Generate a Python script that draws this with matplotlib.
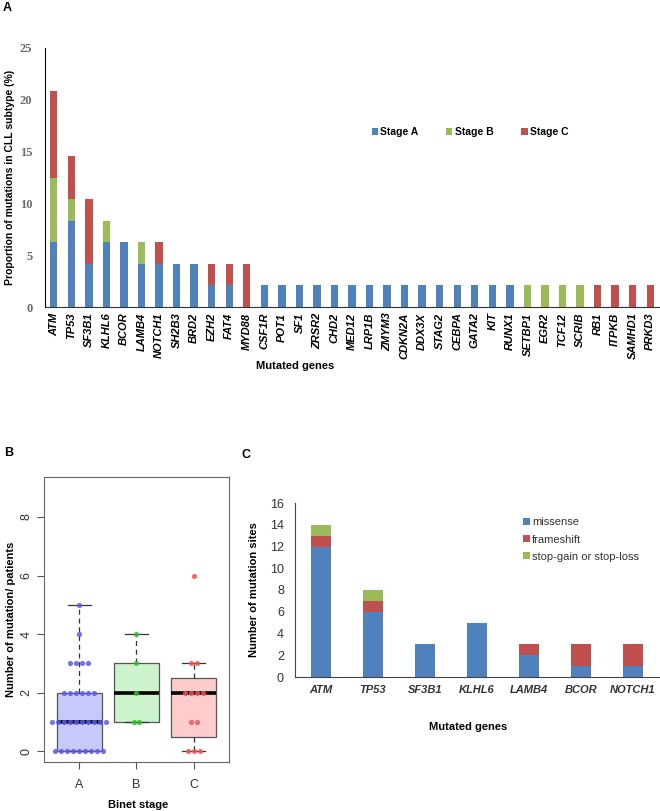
import numpy as np
import matplotlib
matplotlib.use("Agg")
import matplotlib.pyplot as plt

plt.rcParams['font.family'] = ['Liberation Sans', 'DejaVu Sans']

# ---- panel A: proportion of mutations per gene, by Binet stage (%)
genes_a = ['ATM', 'TP53', 'SF3B1', 'KLHL6', 'BCOR', 'LAMB4', 'NOTCH1', 'SH2B3',
           'BRD2', 'EZH2', 'FAT4', 'MYD88', 'CSF1R', 'POT1', 'SF1', 'ZRSR2',
           'CHD2', 'MED12', 'LRP1B', 'ZMYM3', 'CDKN2A', 'DDX3X', 'STAG2', 'CEBPA',
           'GATA2', 'KIT', 'RUNX1', 'SETBP1', 'EGR2', 'TCF12', 'SCRIB', 'RB1',
           'ITPKB', 'SAMHD1', 'PRKD3']
stage_a = [6.25, 8.33, 4.17, 6.25, 6.25, 4.17, 4.17, 4.17, 4.17, 2.08, 2.08, 0,
           2.08, 2.08, 2.08, 2.08, 2.08, 2.08, 2.08, 2.08, 2.08, 2.08, 2.08, 2.08,
           2.08, 2.08, 2.08, 0, 0, 0, 0, 0, 0, 0, 0]
stage_b = [6.25, 2.08, 0, 2.08, 0, 2.08, 0, 0, 0, 0, 0, 0,
           0, 0, 0, 0, 0, 0, 0, 0, 0, 0, 0, 0,
           0, 0, 0, 2.08, 2.08, 2.08, 2.08, 0, 0, 0, 0]
stage_c = [8.33, 4.17, 6.25, 0, 0, 0, 2.08, 0, 0, 2.08, 2.08, 4.17,
           0, 0, 0, 0, 0, 0, 0, 0, 0, 0, 0, 0,
           0, 0, 0, 0, 0, 0, 0, 2.08, 2.08, 2.08, 2.08]

# ---- panel B: number of mutations per patient by Binet stage
binet_groups = ['A', 'B', 'C']
muts_stage_a = [0]*9 + [1]*10 + [2]*6 + [3]*4 + [4] + [5]
muts_stage_b = [1, 1, 2, 3, 4]
muts_stage_c = [0, 0, 0, 1, 1, 2, 2, 2, 2, 3, 3, 6]

# ---- panel C: mutation sites by type
genes_c = ['ATM', 'TP53', 'SF3B1', 'KLHL6', 'LAMB4', 'BCOR', 'NOTCH1']
missense = [12, 6, 3, 5, 2, 1, 1]
frameshift = [1, 1, 0, 0, 1, 2, 2]
stop_gain_loss = [1, 1, 0, 0, 0, 0, 0]

BLUE = '#4F81BD'
RED = '#C0504D'
GREEN = '#9BBB59'

W, H = 660, 811


def px_axes(fig, left, top, right, bottom):
    return fig.add_axes([left / W, 1 - bottom / H, (right - left) / W, (bottom - top) / H])


def fivenum_stats(vals):
    # Tukey hinges, like R's boxplot
    v = np.sort(np.asarray(vals, dtype=float))
    n = len(v)
    med = np.median(v)
    half = (n + 1) // 2
    q1 = np.median(v[:half])
    q3 = np.median(v[n - half:])
    iqr = q3 - q1
    lo = v[v >= q1 - 1.5 * iqr].min()
    hi = v[v <= q3 + 1.5 * iqr].max()
    return dict(med=med, q1=q1, q3=q3, whislo=lo, whishi=hi, fliers=[])


fig = plt.figure(figsize=(W / 100, H / 100), dpi=100)

# ================= A =================
axA = px_axes(fig, 45, 48, 659, 307)
x = np.arange(len(genes_a))
sa = np.array(stage_a)
sb = np.array(stage_b)
sc = np.array(stage_c)
bw = 0.42
axA.bar(x, sa, bw, color=BLUE, label='Stage A')
axA.bar(x, sb, bw, bottom=sa, color=GREEN, label='Stage B')
axA.bar(x, sc, bw, bottom=sa + sb, color=RED, label='Stage C')
axA.set_xlim(-0.5, len(genes_a) - 0.5)
axA.set_ylim(0, 25)
axA.set_yticks([0, 5, 10, 15, 20, 25])
axA.set_yticklabels(['0', '5', '10', '15', '20', '25'], family='Liberation Serif',
                    fontweight='bold', color='#6b6b6b', fontsize=9)
axA.set_xticks(x)
axA.set_xticklabels(genes_a, rotation=90, fontstyle='italic', fontweight='bold',
                    fontsize=8, va='top')
axA.tick_params(length=0, pad=4)
axA.tick_params(axis='y', pad=9)
for s in ['top', 'right']:
    axA.spines[s].set_visible(False)
axA.spines['left'].set_color('black')
axA.spines['bottom'].set_color('#333333')
axA.set_ylabel('Proportion of mutations in CLL subtype (%)', fontweight='bold', fontsize=7.5)
axA.yaxis.set_label_coords(-0.049, 0.5)
axA.legend(ncol=3, loc='center', bbox_to_anchor=(0.692, 0.676), frameon=False,
           prop={'weight': 'bold', 'size': 7.5}, handlelength=0.6, handleheight=0.6,
           handletextpad=0.2, columnspacing=2.7)
fig.text(295 / W, 1 - 366 / H, 'Mutated genes', ha='center', va='center',
         fontweight='bold', fontsize=8)
fig.text(3 / W, 1 - 8 / H, 'A', ha='left', va='center', fontweight='bold', fontsize=9)

# ================= B =================
axB = px_axes(fig, 44, 477, 229, 762)
groups = [muts_stage_a, muts_stage_b, muts_stage_c]
fills = ['#c8c8fa', '#cdf3cd', '#ffcccc']
dots = ['#5a5af0', '#33bb33', '#f05555']
stats = [fivenum_stats(g) for g in groups]
bp = axB.bxp(stats, positions=[1, 2, 3], widths=0.8, patch_artist=True,
             showfliers=False, capwidths=0.4,
             boxprops=dict(edgecolor='#555555', linewidth=0.9),
             whiskerprops=dict(color='#333333', linestyle=(0, (4, 3)), linewidth=0.9),
             capprops=dict(color='#333333', linewidth=0.9),
             medianprops=dict(color='black', linewidth=2.6))
for patch, fc in zip(bp['boxes'], fills):
    patch.set_facecolor(fc)
step = 0.105
for i, g in enumerate(groups):
    vals, counts = np.unique(g, return_counts=True)
    for v, c in zip(vals, counts):
        xs = (i + 1) + (np.arange(c) - (c - 1) / 2) * step
        axB.scatter(xs, [v] * c, s=14, color=dots[i], alpha=0.85, linewidths=0, zorder=3)
axB.set_xlim(0.38, 3.62)
axB.set_ylim(-0.36, 9.36)
axB.set_yticks([0, 2, 4, 6, 8])
axB.set_xticks([1, 2, 3])
axB.set_xticklabels(binet_groups)
for lab in axB.get_yticklabels():
    lab.set_rotation(90)
    lab.set_va('center')
axB.tick_params(colors='#555555', labelcolor='#333333', labelsize=9, length=5)
axB.tick_params(axis='x', pad=7)
for s in axB.spines.values():
    s.set_color('#666666')
axB.set_ylabel('Number of mutation/ patients', fontweight='bold', fontsize=8)
axB.yaxis.set_label_coords(-0.15, 0.5)
fig.text(138 / W, 1 - 805 / H, 'Binet stage', ha='center', va='center',
         fontweight='bold', fontsize=8)
fig.text(4 / W, 1 - 453 / H, 'B', ha='left', va='center', fontweight='bold', fontsize=9)

# ================= C =================
axC = px_axes(fig, 295, 503, 659, 677)
xc = np.arange(len(genes_c))
m = np.array(missense)
f = np.array(frameshift)
st = np.array(stop_gain_loss)
bwc = 0.38
axC.bar(xc, m, bwc, color=BLUE, label='missense')
axC.bar(xc, f, bwc, bottom=m, color=RED, label='frameshift')
axC.bar(xc, st, bwc, bottom=m + f, color=GREEN, label='stop-gain or stop-loss')
axC.set_xlim(-0.5, len(genes_c) - 0.5)
axC.set_ylim(0, 16)
axC.set_yticks(range(0, 17, 2))
axC.set_xticks(xc)
axC.set_xticklabels(genes_c, fontstyle='italic', fontweight='bold', fontsize=8)
axC.tick_params(length=0, labelcolor='#333333')
axC.tick_params(axis='y', labelsize=9, pad=8)
axC.tick_params(axis='x', pad=6)
for s in ['top', 'right']:
    axC.spines[s].set_visible(False)
axC.spines['left'].set_color('#444444')
axC.spines['bottom'].set_color('#444444')
axC.set_ylabel('Number of mutation sites', fontweight='bold', fontsize=8)
axC.yaxis.set_label_coords(-0.10, 0.5)
axC.legend(loc='upper left', bbox_to_anchor=(0.60, 0.975), frameon=False,
           prop={'size': 8}, labelcolor='#333333', handlelength=0.6, handleheight=0.6,
           handletextpad=0.2, labelspacing=0.65)
fig.text(468 / W, 1 - 727 / H, 'Mutated genes', ha='center', va='center',
         fontweight='bold', fontsize=8)
fig.text(242 / W, 1 - 455 / H, 'C', ha='left', va='center', fontweight='bold', fontsize=9)

fig.savefig('out.png', dpi=100)
